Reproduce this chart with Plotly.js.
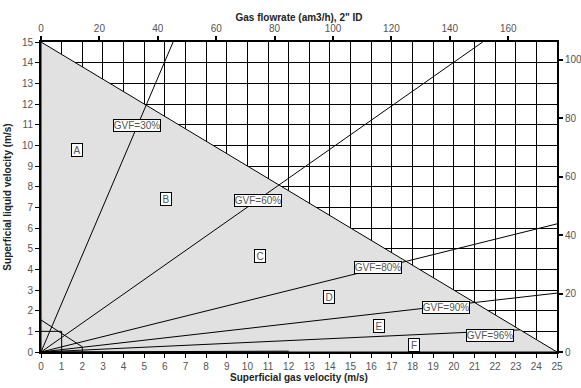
<!DOCTYPE html>
<html>
<head>
<meta charset="utf-8">
<script src="https://cdn.plot.ly/plotly-3.0.1.min.js"></script>
<style>html,body{margin:0;padding:0;background:#fff;}#chart{width:581px;height:388px;}</style>
</head>
<body>
<div id="chart"></div>
<script>
// Boundary triangle (gray area): superficial gas vs liquid velocity
var regionX = [0, 0, 25, 0];
var regionY = [0, 15, 0, 0];

// GVF lines from origin (end points)
var gvfNames = ["GVF=30%", "GVF=60%", "GVF=80%", "GVF=90%", "GVF=96%"];
var gvfEndX = [6.4, 21.4, 25, 25, 23.2];
var gvfEndY = [15, 15, 6.2, 2.85, 1.07];

// Label positions for GVF annotations
var gvfLabelX = [4.65, 10.5, 16.35, 19.6, 21.75];
var gvfLabelY = [10.98, 7.35, 4.11, 2.15, 0.8];

// Region letters
var regionNames = ["A", "B", "C", "D", "E", "F"];
var regionLabelX = [1.74, 6.06, 10.61, 13.95, 16.38, 18.07];
var regionLabelY = [9.77, 7.4, 4.64, 2.66, 1.26, 0.32];

// Small lines near the origin
var smallLines = [
  {x: [0, 2], y: [1.55, 0.25]},
  {x: [0, 1], y: [1, 1]},
  {x: [1, 1], y: [1, 0]},
  {x: [2, 2], y: [0.25, 0]},
  {x: [0, 12], y: [0, 0.04]}
];

// Secondary axis ranges (gas/liquid flowrate, am3/h for 2" ID)
var topRange = [0, 176.7];
var rightRange = [0, 106];

var traces = [];
traces.push({x: regionX, y: regionY, mode: 'lines', fill: 'toself', fillcolor: '#e1e1e1',
  line: {color: '#000', width: 1}, hoverinfo: 'skip', showlegend: false});
for (var i = 0; i < gvfNames.length; i++) {
  traces.push({x: [0, gvfEndX[i]], y: [0, gvfEndY[i]], mode: 'lines',
    line: {color: '#000', width: 1}, showlegend: false, hoverinfo: 'skip'});
}
smallLines.forEach(function (s) {
  traces.push({x: s.x, y: s.y, mode: 'lines', line: {color: '#000', width: 1},
    showlegend: false, hoverinfo: 'skip'});
});
// invisible trace to anchor the secondary axes
traces.push({x: topRange, y: rightRange, xaxis: 'x2', yaxis: 'y2', mode: 'markers',
  marker: {opacity: 0}, showlegend: false, hoverinfo: 'skip'});

var labelFont = {family: 'Liberation Sans, Arial, sans-serif', size: 10, color: '#555'};
var annotations = [];
for (var j = 0; j < gvfNames.length; j++) {
  annotations.push({x: gvfLabelX[j], y: gvfLabelY[j], xref: 'x', yref: 'y', text: gvfNames[j],
    showarrow: false, bgcolor: '#fff', bordercolor: '#000', borderwidth: 1, borderpad: 0,
    width: 46, height: 11, font: labelFont});
}
for (var k = 0; k < regionNames.length; k++) {
  annotations.push({x: regionLabelX[k], y: regionLabelY[k], xref: 'x', yref: 'y', text: regionNames[k],
    showarrow: false, bgcolor: '#fff', bordercolor: '#000', borderwidth: 1, borderpad: 0,
    width: 10, height: 12, font: labelFont});
}

var tickFont = {family: 'Liberation Sans, Arial, sans-serif', size: 10, color: '#555'};
var titleFont = {family: 'Liberation Sans, Arial, sans-serif', size: 10, color: '#222', weight: 'bold'};

var layout = {
  width: 581, height: 388,
  margin: {l: 41, r: 24, t: 42, b: 36, pad: 0},
  paper_bgcolor: '#fff', plot_bgcolor: '#fff',
  showlegend: false,
  xaxis: {range: [0, 25], dtick: 1, tick0: 0, showgrid: true, gridcolor: '#000', gridwidth: 1,
    zeroline: false, showline: true, linecolor: '#000', linewidth: 2, ticks: 'outside', ticklen: 4,
    tickcolor: '#000', tickfont: tickFont,
    title: {text: 'Superficial gas velocity (m/s)', font: titleFont, standoff: 0}},
  yaxis: {range: [0, 15], dtick: 1, tick0: 0, showgrid: true, gridcolor: '#000', gridwidth: 1,
    zeroline: false, showline: true, linecolor: '#000', linewidth: 2, ticks: 'outside', ticklen: 4,
    tickcolor: '#000', tickfont: tickFont,
    title: {text: 'Superficial liquid velocity (m/s)', font: titleFont, standoff: 8}},
  xaxis2: {range: topRange, dtick: 20, tick0: 0, overlaying: 'x', side: 'top', showgrid: false,
    zeroline: false, showline: true, linecolor: '#000', linewidth: 2, ticks: 'outside', ticklen: 4,
    tickwidth: 2, tickcolor: '#000', tickfont: tickFont,
    title: {text: 'Gas flowrate (am3/h), 2" ID', font: titleFont, standoff: 0}},
  yaxis2: {range: rightRange, dtick: 20, tick0: 0, overlaying: 'y', side: 'right', showgrid: false,
    zeroline: false, showline: true, linecolor: '#000', linewidth: 2, ticks: 'outside', ticklen: 4,
    tickwidth: 2, tickcolor: '#000', tickfont: tickFont},
  annotations: annotations
};

Plotly.newPlot('chart', traces, layout, {staticPlot: true, displayModeBar: false});
</script>
</body>
</html>
